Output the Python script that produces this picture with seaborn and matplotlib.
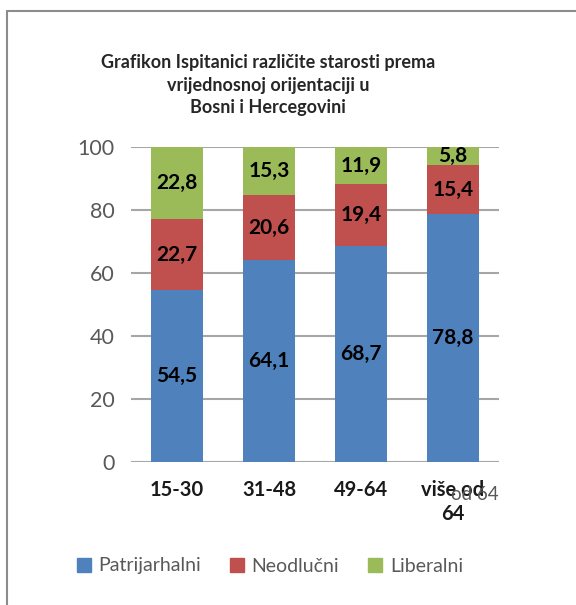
import matplotlib
matplotlib.use("Agg")
import matplotlib.pyplot as plt
import seaborn as sns
import pandas as pd
import numpy as np
from matplotlib.lines import Line2D

categories = ["15-30", "31-48", "49-64", "više od\n64"]
series_names = ["Patrijarhalni", "Neodlučni", "Liberalni"]
patrijarhalni = [54.5, 64.1, 68.7, 78.8]
neodlucni = [22.7, 20.6, 19.4, 15.4]
liberalni = [22.8, 15.3, 11.9, 5.8]
yticks = [0, 20, 40, 60, 80, 100]
title = "Grafikon Ispitanici različite starosti prema\nvrijednosnoj orijentaciji u\nBosni i Hercegovini"
overlay_text = "od 64"

colors = ["#4F81BD", "#C0504D", "#9BBB59"]

sns.set_theme(style="white")
plt.rcParams["font.family"] = ["Lato", "DejaVu Sans"]

W, H = 576, 605
fig = plt.figure(figsize=(W / 100, H / 100), dpi=100)
ax = fig.add_axes([131 / W, 1 - 462 / H, (499 - 131) / W, (462 - 147) / H])

vals = [patrijarhalni, neodlucni, liberalni]
cum = np.cumsum(np.array(vals), axis=0)
df = pd.DataFrame({"cat": categories})
for i in range(2, -1, -1):
    df["v"] = cum[i]
    sns.barplot(data=df, x="cat", y="v", color=colors[i], width=0.565,
                saturation=1, ax=ax, zorder=3, linewidth=0)

for i in range(3):
    for j in range(len(categories)):
        lo = cum[i][j] - vals[i][j]
        mid = lo + vals[i][j] / 2
        ax.text(j, mid, f"{vals[i][j]:.1f}".replace(".", ","), ha="center",
                va="center", fontsize=15, fontweight="bold", color="black", zorder=5)

ax.set_ylim(0, 100)
ax.set_xlim(-0.5, 3.5)
ax.set_yticks(yticks)
ax.set_yticklabels([str(t) for t in yticks], fontsize=15.5, color="#595959")
ax.set_xticks(range(len(categories)))
ax.set_xticklabels(categories, fontsize=14.5, fontweight="bold", color="#1a1a1a",
                   linespacing=1.25)
ax.tick_params(axis="x", length=0, pad=13)
ax.tick_params(axis="y", length=0, pad=12)
ax.set_xlabel("")
ax.set_ylabel("")
for s in ax.spines.values():
    s.set_visible(False)
ax.grid(axis="y", color="#A6A6A6", linewidth=1.5, zorder=0)
ax.set_axisbelow(True)

fig.text(451 / W, 1 - 494 / H, overlay_text, ha="left", va="center", fontsize=13.5,
         color="#595959")

fig.text(268 / W, 1 - 85 / H, title, ha="center", va="center", fontsize=13,
         fontweight="bold", color="#262626", linespacing=1.4)

handles = [plt.Rectangle((0, 0), 1, 1, color=c) for c in colors]
fig.legend(handles, series_names, loc="center", bbox_to_anchor=(270 / W, 1 - 566 / H),
           ncol=3, frameon=False, fontsize=14, handlelength=0.7, handleheight=0.7,
           handletextpad=0.4, columnspacing=1.5, labelcolor="#595959")

fig.add_artist(Line2D([6.5 / W, 6.5 / W], [0, 1 - 10.5 / H], color="#8c8c8c", linewidth=1.5))
fig.add_artist(Line2D([6.5 / W, 1], [1 - 10.5 / H, 1 - 10.5 / H], color="#8c8c8c", linewidth=1.5))

fig.savefig("out.png", dpi=100)
